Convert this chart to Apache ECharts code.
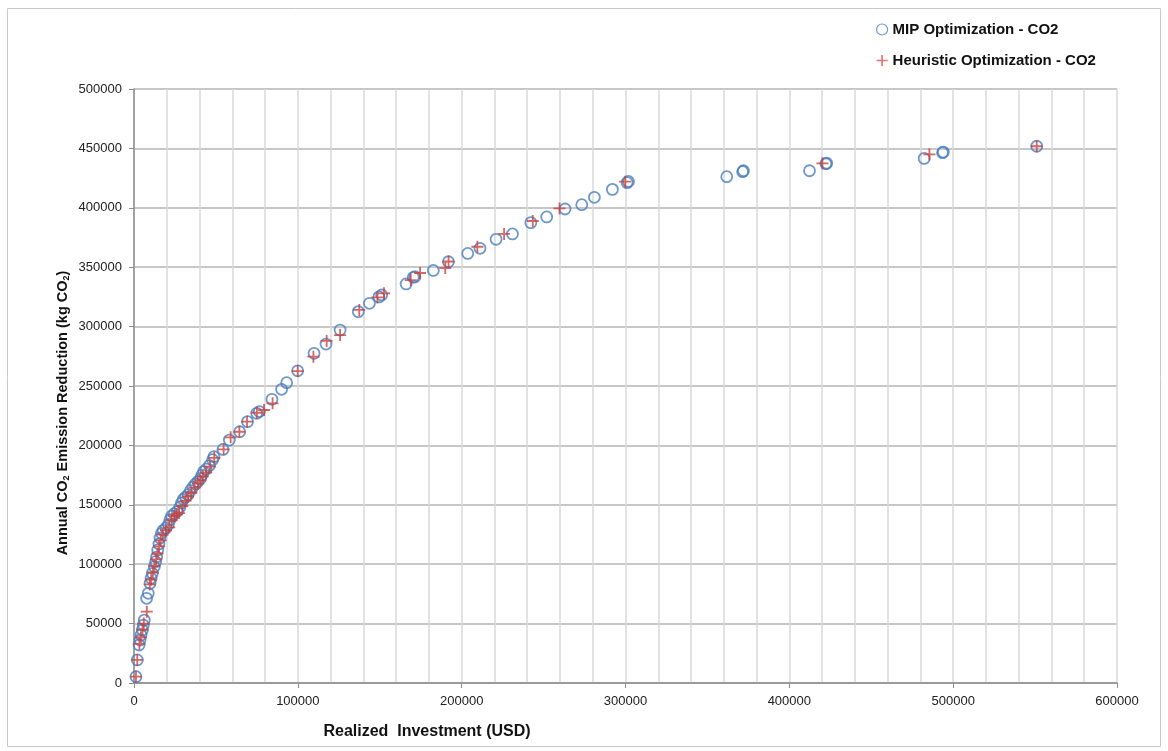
<!DOCTYPE html>
<html>
<head>
<meta charset="utf-8">
<script src="https://cdn.jsdelivr.net/npm/echarts@6/dist/echarts.min.js"></script>
<style>html,body{margin:0;padding:0;background:#fff}#c{width:1168px;height:751px}</style>
</head>
<body>
<div id="c"></div>
<script>
// Series names
const seriesNames = ['MIP Optimization - CO2', 'Heuristic Optimization - CO2'];
// Axis titles
const xTitle = 'Realized  Investment (USD)';
const yTitle = 'Annual CO{s|2} Emission Reduction (kg CO{s|2})';

// MIP Optimization points [investment USD, annual CO2 reduction kg]
const mipData = [
  [1200,5300],[2000,19400],[3100,32000],[3700,36200],[4300,40400],[5100,44600],[5700,48800],[6300,53000],
  [7700,71300],[8700,75500],[9800,83900],[10400,88100],[11200,92300],[12400,97900],[13200,102100],
  [13800,106000],[14500,112000],[15200,117000],[15900,122000],[16800,126000],[17800,128500],[19500,130500],
  [21000,133500],[22000,137500],[23000,140500],[24500,142500],[26500,144500],[28000,148000],[29000,151500],
  [30000,154500],[31500,156500],[33000,158500],[34500,162000],[36000,165000],[37500,167500],[39000,169500],
  [40500,172000],[41500,175000],[42500,178000],[44000,180000],[46000,183000],[48000,188000],[48800,190500],
  [54300,196600],[58200,204500],[64500,211500],[69300,220000],[74900,227000],[76500,228500],[84200,238800],
  [90100,247200],[93200,252800],[99900,262800],[109900,277500],[117200,285300],[125800,297100],
  [136900,312600],[143700,319600],[149500,325000],[151200,326600],[166100,335900],[170500,341500],
  [171500,342000],[182700,347300],[191900,354600],[203700,361600],[211200,365900],[221000,373500],
  [231000,378000],[242200,387500],[251900,392300],[263100,399000],[273300,402600],[281000,408800],
  [292000,415500],[301000,421200],[301800,422200],[361800,426200],[371500,430400],[372000,431200],
  [412300,431200],[422300,437100],[422800,437500],[482300,441600],[493500,446400],[494000,446900],
  [551000,451800]
];

// Heuristic Optimization points [investment USD, annual CO2 reduction kg]
const heuristicData = [
  [1200,5300],[2000,19400],[3300,33000],[4200,38500],[5200,45000],[6000,50000],[7800,60000],
  [9600,83000],[10500,87000],[11500,93000],[12500,98500],[13500,104000],[14400,109000],[15300,115000],
  [16300,120000],[17500,125000],[19500,128500],[21500,131000],[23000,137000],[24500,140500],[26000,142000],
  [27500,143000],[29500,149000],[31500,153500],[33000,157000],[35000,160000],[37000,164500],[39000,168000],
  [40500,170500],[42000,174000],[44000,177000],[46400,182100],[49000,189500],[54700,196700],[59000,206800],
  [64300,211500],[69000,220000],[75000,227500],[79400,229800],[84600,235400],[99900,262600],[109500,274700],
  [117600,287900],[125800,292900],[137500,314000],[148600,324600],[152600,328000],[168900,339200],
  [174600,345100],[190000,349300],[192000,354800],[209600,367200],[225900,378000],[243400,388900],
  [259700,399500],[299800,422000],[420200,437400],[485500,445000],[551000,451800]
];

const plusPath = 'path://M5.1,0H6.9V5.1H12V6.9H6.9V12H5.1V6.9H0V5.1H5.1Z';
const fontFam = '"Liberation Sans", Arial, sans-serif';

const chart = echarts.init(document.getElementById('c'), null, {renderer: 'canvas'});
chart.setOption({
  animation: false,
  backgroundColor: '#fff',
  grid: {left: 134, right: 51, top: 89, bottom: 68, containLabel: false},
  legend: {
    orient: 'vertical', left: 871, top: 17, itemGap: 16, itemWidth: 11, itemHeight: 11,
    textStyle: {fontFamily: fontFam, fontSize: 15, fontWeight: 'bold', color: '#111'},
    data: [
      {name: seriesNames[0], icon: 'circle', itemStyle: {color: '#fff', borderColor: '#4a7ebb', borderWidth: 1.2}},
      {name: seriesNames[1], icon: plusPath, itemStyle: {color: '#d9534f', borderWidth: 0}}
    ]
  },
  xAxis: {
    type: 'value', min: 0, max: 600000, interval: 100000,
    axisLine: {show: true, lineStyle: {color: '#8c8c8c', width: 1.5}},
    axisTick: {show: true, length: 5, inside: false, lineStyle: {color: '#8c8c8c'}},
    axisLabel: {margin: 12, fontFamily: fontFam, fontSize: 13, color: '#222', formatter: v => String(v)},
    splitLine: {show: true, lineStyle: {color: '#d9d9d9', width: 1.5}},
    minorTick: {show: false, splitNumber: 5},
    minorSplitLine: {show: true, lineStyle: {color: '#d9d9d9', width: 1.5}}
  },
  yAxis: {
    type: 'value', min: 0, max: 500000, interval: 50000,
    axisLine: {show: true, lineStyle: {color: '#8c8c8c', width: 1.5}},
    axisTick: {show: true, length: 5, inside: false, lineStyle: {color: '#8c8c8c'}},
    axisLabel: {margin: 12, fontFamily: fontFam, fontSize: 13, color: '#222', formatter: v => String(v)},
    splitLine: {show: true, lineStyle: {color: '#b4b4b4', width: 1.5}}
  },
  graphic: [
    {type: 'rect', silent: true, z: -10, shape: {x: 7.5, y: 8.5, width: 1153, height: 738},
     style: {fill: 'none', stroke: '#c8c8c8', lineWidth: 1}},
    {type: 'text', x: 427, y: 732, silent: true,
     style: {text: xTitle, align: 'center', verticalAlign: 'middle', font: 'bold 16px ' + fontFam, fill: '#111'}},
    {type: 'text', x: 63, y: 413, rotation: Math.PI / 2, silent: true,
     style: {text: yTitle, align: 'center', verticalAlign: 'middle', font: 'bold 14.5px ' + fontFam, fill: '#111',
       rich: {s: {font: 'bold 9px ' + fontFam, fill: '#111', verticalAlign: 'bottom', padding: [8, 0, 0, 0]}}}}
  ],
  series: [
    {
      name: seriesNames[0], type: 'scatter', data: mipData, symbol: 'circle', symbolSize: 11,
      itemStyle: {color: 'rgba(255,255,255,0)', borderColor: '#4a7ebb', borderWidth: 1.8}, z: 2
    },
    {
      name: seriesNames[1], type: 'scatter', data: heuristicData, symbol: plusPath, symbolSize: 12,
      itemStyle: {color: '#c9403c', borderWidth: 0}, z: 3
    }
  ]
});
</script>
</body>
</html>
